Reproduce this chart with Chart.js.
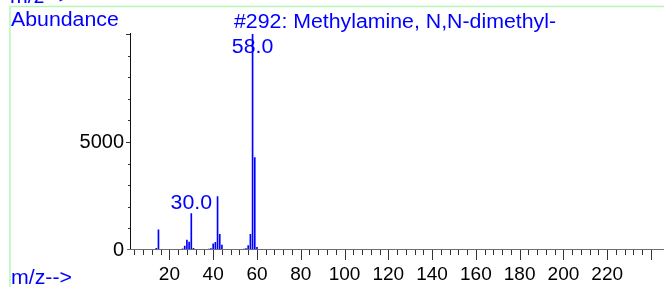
<!DOCTYPE html>
<html>
<head>
<meta charset="utf-8">
<script src="https://cdn.jsdelivr.net/npm/chart.js@4/dist/chart.umd.min.js"></script>
<style>
  html, body { margin: 0; padding: 0; background: #ffffff; }
  #wrap { width: 664px; height: 287px; position: relative; }
</style>
</head>
<body>
<div id="wrap"><canvas id="c" width="664" height="287"></canvas></div>
<script>
// ---- data ----
const mz        = [14, 15, 26, 27, 28, 29, 30, 31, 38, 39, 40, 41, 42, 43, 44, 52, 54, 55, 56, 57, 58, 59, 60];
const abundance = [80, 930, 50, 180, 460, 370, 1685, 80, 40, 60, 290, 350, 2470, 720, 230, 30, 40, 60, 200, 730, 10000, 4280, 120];
const labeledPeaks = [30, 58];
const labeledText  = ['30.0', '58.0'];
const xTickLabels  = [20, 40, 60, 80, 100, 120, 140, 160, 180, 200, 220];
const yTickLabels  = [0, 5000];
const titleText = '#292: Methylamine, N,N-dimethyl-';
const yTitle = 'Abundance';
const xTitle = 'm/z-->';

const FONT = '"Liberation Sans", Arial, sans-serif';
const BLUE = '#0000ff';
const STRETCH = 1.065;

const points = mz.map((m, i) => ({ x: m, y: abundance[i] }));

function wideText(ctx, text, x, y, align) {
  ctx.save();
  const w = ctx.measureText(text).width * STRETCH;
  let left = x;
  if (align === 'center') left = x - w / 2;
  ctx.translate(left, y);
  ctx.scale(STRETCH, 1);
  ctx.textAlign = 'left';
  ctx.fillText(text, 0, 0);
  ctx.restore();
}

const deco = {
  id: 'deco',
  beforeDraw(chart) {
    const ctx = chart.ctx;
    ctx.save();
    ctx.strokeStyle = '#b6f5b6';
    ctx.lineWidth = 1.5;
    ctx.beginPath();
    ctx.moveTo(10, 287);
    ctx.lineTo(10, 6.5);
    ctx.lineTo(664, 6.5);
    ctx.stroke();
    ctx.restore();
  },
  afterDraw(chart) {
    const { ctx, chartArea: a, scales: { x, y } } = chart;
    ctx.save();
    ctx.lineWidth = 1;
    ctx.strokeStyle = '#111';
    ctx.beginPath();
    ctx.moveTo(130.5, a.top - 1);
    ctx.lineTo(130.5, a.bottom);
    ctx.stroke();
    ctx.strokeStyle = '#6e6e6e';
    ctx.beginPath();
    ctx.moveTo(127, 249.5);
    ctx.lineTo(664, 249.5);
    ctx.stroke();
    ctx.strokeStyle = '#333';
    x.ticks.forEach(t => {
      const px = Math.round(x.getPixelForValue(t.value)) + 0.5;
      const major = t.value % 20 === 0;
      ctx.beginPath();
      ctx.moveTo(px, 250);
      ctx.lineTo(px, major ? 260 : 255);
      ctx.stroke();
    });
    y.ticks.forEach(t => {
      if (t.value === 0) return;
      const py = Math.round(y.getPixelForValue(t.value)) + 0.5;
      const major = t.value % 5000 === 0;
      ctx.beginPath();
      ctx.moveTo(major ? 126 : 128, py);
      ctx.lineTo(130, py);
      ctx.stroke();
    });
    ctx.fillStyle = BLUE;
    ctx.font = '20px ' + FONT;
    ctx.textBaseline = 'alphabetic';
    wideText(ctx, xTitle, 10, 3, 'left');
    wideText(ctx, yTitle, 11, 26, 'left');
    wideText(ctx, titleText, 234, 28, 'left');
    wideText(ctx, xTitle, 11, 284, 'left');
    labeledPeaks.forEach((m, i) => {
      const idx = mz.indexOf(m);
      const px = x.getPixelForValue(m);
      const top = y.getPixelForValue(abundance[idx]);
      const base = Math.max(top - 5, a.top + 19);
      wideText(ctx, labeledText[i], px, base, 'center');
    });
    ctx.restore();
  }
};

new Chart(document.getElementById('c'), {
  type: 'bar',
  data: {
    datasets: [{
      data: points,
      backgroundColor: BLUE,
      borderWidth: 0,
      barThickness: 1,
      grouped: false
    }]
  },
  options: {
    responsive: false,
    animation: false,
    events: [],
    layout: { padding: { left: 0, top: 34, right: 1, bottom: 0 } },
    plugins: { legend: { display: false }, tooltip: { enabled: false }, title: { display: false } },
    scales: {
      x: {
        type: 'linear',
        min: 2,
        max: 244.5,
        offset: false,
        grid: { display: false, drawTicks: false },
        border: { display: false },
        afterBuildTicks: s => {
          const t = [];
          for (let v = 4; v <= 240; v += 4) t.push({ value: v });
          s.ticks = t;
        },
        afterFit: s => { s.height = 37; },
        ticks: {
          autoSkip: false,
          maxRotation: 0,
          minRotation: 0,
          padding: 13,
          color: '#000',
          font: { family: FONT, size: 19 },
          callback: v => xTickLabels.includes(v) ? String(v) : ''
        }
      },
      y: {
        type: 'linear',
        min: 0,
        max: 10000,
        grid: { display: false, drawTicks: false },
        border: { display: false },
        afterBuildTicks: s => {
          const t = [];
          for (let v = 0; v <= 10000; v += 1000) t.push({ value: v });
          s.ticks = t;
        },
        afterFit: s => { s.width = 130; },
        ticks: {
          autoSkip: false,
          padding: 6,
          color: '#000',
          font: { family: FONT, size: 20 },
          callback: v => yTickLabels.includes(v) ? String(v) : ''
        }
      }
    }
  },
  plugins: [deco]
});
</script>
</body>
</html>
